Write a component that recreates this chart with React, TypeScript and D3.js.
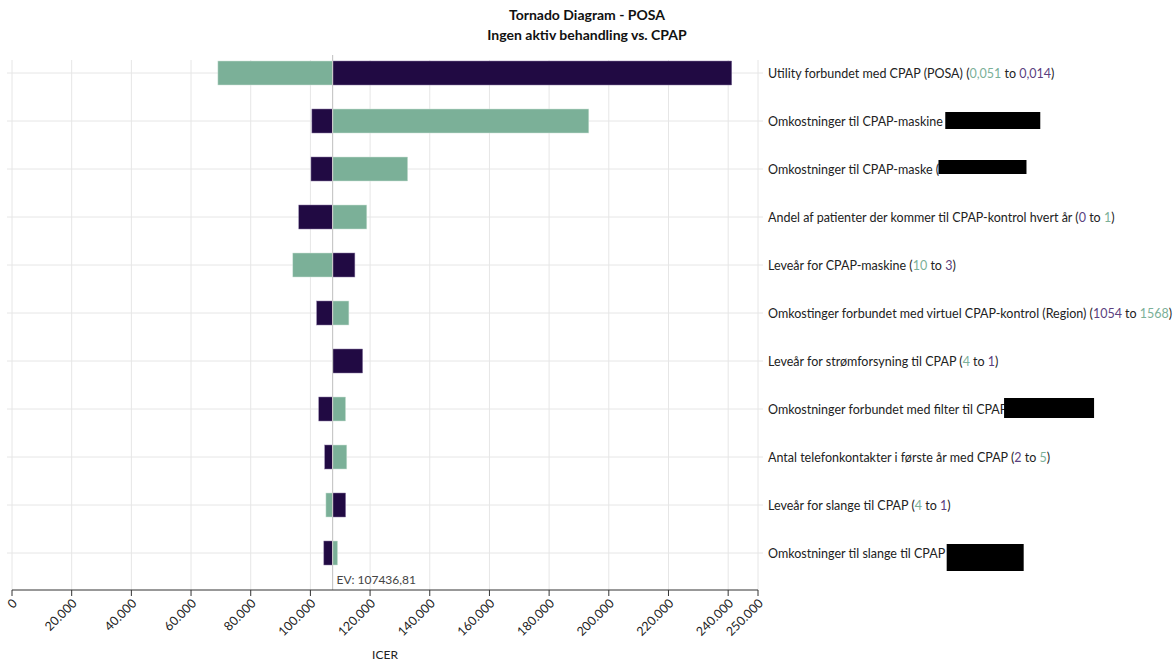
import React from "react";
import * as d3 from "d3";

const title1 = "Tornado Diagram - POSA";
const title2 = "Ingen aktiv behandling vs. CPAP";
const xLabel = "ICER";
const evValue = 107436.81;
const evText = "EV: 107436,81";

const labels = [
  "Utility forbundet med CPAP (POSA)",
  "Omkostninger til CPAP-maskine",
  "Omkostninger til CPAP-maske (",
  "Andel af patienter der kommer til CPAP-kontrol hvert år",
  "Leveår for CPAP-maskine",
  "Omkostinger forbundet med virtuel CPAP-kontrol (Region)",
  "Leveår for strømforsyning til CPAP",
  "Omkostninger forbundet med filter til CPAP",
  "Antal telefonkontakter i første år med CPAP",
  "Leveår for slange til CPAP",
  "Omkostninger til slange til CPAP",
];
// range texts (null = redacted in the original)
const rangeFirst = ["0,051", null, null, "0", "10", "1054", "4", null, "2", "4", null];
const rangeSecond = ["0,014", null, null, "1", "3", "1568", "1", null, "5", "1", null];
const firstIsGreen = [true, false, false, false, true, false, true, false, false, true, false];
// ICER results for green (high parameter) and purple (low parameter)
const greenICER = [69000, 193300, 132600, 118900, 94100, 112900, 107436.81, 111800, 112200, 105200, 109100];
const purpleICER = [241200, 100500, 100200, 96100, 114900, 102100, 117500, 102800, 104800, 111800, 104500];
// redaction boxes: [offset from label end, width, top offset from row center, height]
const redactions: ([number, number, number, number] | null)[] = [
  null, [-1, 95, -9, 17], [-4, 88, -9, 14], null, null, null, null, [-7, 90, -11, 20], null, null, [-2, 77, -9, 27],
];
const xTicks = [0, 20000, 40000, 60000, 80000, 100000, 120000, 140000, 160000, 180000, 200000, 220000, 240000, 250000];

const GREEN = "#7BB098";
const PURPLE = "#210A43";
const PURPLE_TXT = "#5B3F80";
const FONT = "Lato, 'Open Sans', sans-serif";

export default function App() {
  const W = 1176, H = 661;
  const x = d3.scaleLinear().domain([0, 250000]).range([12, 758]);
  const y = d3.scalePoint<number>().domain(d3.range(labels.length)).range([73, 553]);
  const axisY = 590;
  const barH = 24;
  const fmt = (v: number) => d3.format(",")(v).replace(/,/g, ".");

  const measure = (s: string) => {
    if (typeof document === "undefined") return s.length * 6;
    const c = document.createElement("canvas").getContext("2d")!;
    c.font = `12.5px ${FONT}`;
    return c.measureText(s).width;
  };

  return (
    <svg width={W} height={H} style={{ position: "absolute", left: 0, top: 0, fontFamily: FONT }}>
      <rect width={W} height={H} fill="#fff" />
      <text x={587} y={20} textAnchor="middle" fontWeight="bold" fontSize={14} fill="#111">{title1}</text>
      <text x={587} y={40} textAnchor="middle" fontWeight="bold" fontSize={14} fill="#111">{title2}</text>

      {xTicks.map((t) => (
        <line key={"vg" + t} x1={x(t)} x2={x(t)} y1={60} y2={axisY} stroke="#e6e6e6" />
      ))}
      {labels.map((_, i) => (
        <line key={"hg" + i} x1={7} x2={763} y1={y(i)!} y2={y(i)!} stroke="#e6e6e6" />
      ))}

      {labels.map((_, i) => {
        const cy = y(i)!;
        const ev = x(evValue);
        const g = x(greenICER[i]);
        const p = x(purpleICER[i]);
        return (
          <g key={"b" + i}>
            {Math.abs(g - ev) > 0.5 && (
              <rect x={Math.min(g, ev)} y={cy - barH / 2} width={Math.abs(g - ev)} height={barH} fill={GREEN} stroke="#cfe3d8" strokeWidth={0.5} />
            )}
            {Math.abs(p - ev) > 0.5 && (
              <rect x={Math.min(p, ev)} y={cy - barH / 2} width={Math.abs(p - ev)} height={barH} fill={PURPLE} stroke="#8a7aa3" strokeWidth={0.5} />
            )}
          </g>
        );
      })}

      <line x1={x(evValue)} x2={x(evValue)} y1={55} y2={axisY} stroke="#c8c8c8" strokeWidth={1.2} />
      <text x={x(evValue) + 4} y={584} fontSize={12} fill="#444">{evText}</text>

      {labels.map((l, i) => {
        const cy = y(i)!;
        const f = rangeFirst[i];
        const s = rangeSecond[i];
        const red = redactions[i];
        const lw = measure(l + " ");
        return (
          <g key={"l" + i}>
            <text x={768} y={cy + 4.5} fontSize={12.5} fill="#222">
              <tspan>{l}</tspan>
              {f !== null && (
                <>
                  <tspan> (</tspan>
                  <tspan fill={firstIsGreen[i] ? GREEN : PURPLE_TXT}>{f}</tspan>
                  <tspan> to </tspan>
                  <tspan fill={firstIsGreen[i] ? PURPLE_TXT : GREEN}>{s}</tspan>
                  <tspan>)</tspan>
                </>
              )}
            </text>
            {red && <rect x={768 + lw + red[0]} y={cy + red[2]} width={red[1]} height={red[3]} fill="#000" />}
          </g>
        );
      })}

      <line x1={x(0)} x2={x(250000)} y1={axisY} y2={axisY} stroke="#333" />
      {xTicks.map((t) => (
        <g key={"t" + t} transform={`translate(${x(t)},${axisY})`}>
          <line y1={0} y2={6} stroke="#333" />
          <text transform="translate(6,14) rotate(-45)" textAnchor="end" fontSize={12.5} fill="#222">{fmt(t)}</text>
        </g>
      ))}
      <text x={(x(0) + x(250000)) / 2} y={659} textAnchor="middle" fontSize={12} fill="#222">{xLabel}</text>
    </svg>
  );
}
